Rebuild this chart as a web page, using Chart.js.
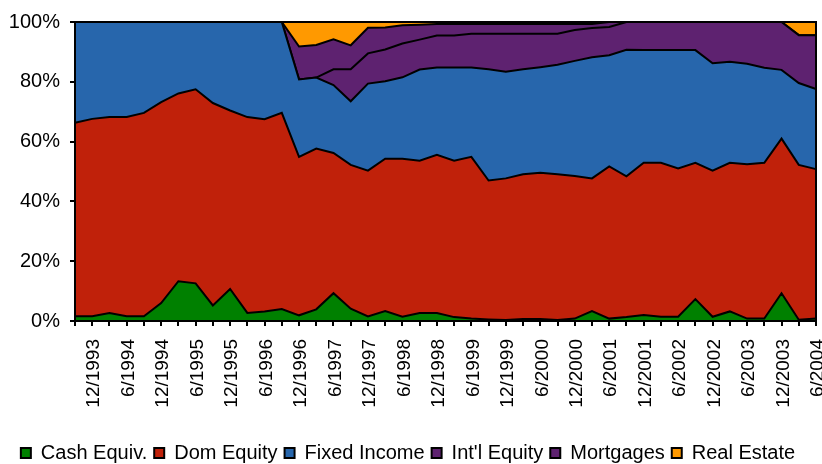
<!DOCTYPE html>
<html>
<head>
<meta charset="utf-8">
<script src="https://cdn.jsdelivr.net/npm/chart.js@4.4.1/dist/chart.umd.min.js"></script>
<style>
  html, body { margin: 0; padding: 0; background: #fff; }
  #wrap { width: 822px; height: 464px; }
</style>
</head>
<body>
<div id="wrap"><canvas id="allocChart"></canvas></div>
<script>
// quarter ends, only every other one gets a label on the axis
const quarters = ["9/1993", "12/1993", "3/1994", "6/1994", "9/1994", "12/1994", "3/1995", "6/1995",
    "9/1995", "12/1995", "3/1996", "6/1996", "9/1996", "12/1996", "3/1997", "6/1997", "9/1997",
    "12/1997", "3/1998", "6/1998", "9/1998", "12/1998", "3/1999", "6/1999", "9/1999", "12/1999",
    "3/2000", "6/2000", "9/2000", "12/2000", "3/2001", "6/2001", "9/2001", "12/2001", "3/2002",
    "6/2002", "9/2002", "12/2002", "3/2003", "6/2003", "9/2003", "12/2003", "3/2004", "6/2004"];

// percent of total, per quarter
const cashEquiv = [1.6, 1.6, 2.7, 1.6, 1.6, 6.0, 13.3, 12.6, 5.2, 10.7, 2.7, 3.2, 4.0, 1.9, 3.9, 9.3,
    4.1, 1.5, 3.3, 1.4, 2.7, 2.7, 1.3, 0.8, 0.5, 0.3, 0.7, 0.7, 0.3, 0.8, 3.3, 0.8, 1.3, 2.0, 1.4,
    1.4, 7.3, 1.4, 3.2, 0.8, 0.8, 9.3, 0.4, 0.8];
const domEquity = [64.7, 66.0, 65.5, 66.6, 68.0, 67.2, 62.8, 64.9, 67.7, 59.7, 65.5, 64.3, 65.6, 53.0,
    53.8, 46.9, 48.1, 48.8, 51.0, 52.9, 50.9, 52.9, 52.3, 54.1, 46.5, 47.4, 48.4, 48.9, 48.8, 47.7,
    44.4, 50.9, 47.1, 50.9, 51.5, 49.6, 45.6, 48.9, 49.7, 51.6, 52.1, 51.7, 51.8, 50.0];
const fixedIncome = [33.7, 32.4, 31.8, 31.8, 30.4, 26.8, 23.9, 22.5, 27.1, 29.6, 31.8, 32.5, 30.4, 25.9,
    23.7, 22.7, 21.3, 29.1, 25.9, 27.2, 30.5, 29.2, 31.2, 29.9, 37.2, 35.7, 35.1, 35.3, 36.6, 38.5,
    40.5, 37.2, 42.3, 37.7, 37.7, 39.6, 37.7, 35.9, 33.8, 33.6, 31.8, 23.0, 27.4, 26.8];
const intlEquity = [0, 0, 0, 0, 0, 0, 0, 0, 0, 0, 0, 0, 0, 0, 0, 5.3, 10.7, 10.1, 10.6, 11.3, 10.0,
    10.7, 10.7, 11.3, 11.9, 12.7, 11.9, 11.2, 10.4, 10.3, 9.8, 9.4, 9.3, 9.4, 9.4, 9.4, 9.4, 13.8,
    13.3, 14.0, 15.3, 16.0, 16.0, 18.0];
const mortgages = [0, 0, 0, 0, 0, 0, 0, 0, 0, 0, 0, 0, 0, 11.0, 10.9, 10.0, 8.0, 8.6, 7.4, 6.1, 5.0,
    3.8, 3.8, 3.2, 3.2, 3.2, 3.2, 3.2, 3.2, 2.0, 1.3, 1.7, 0, 0, 0, 0, 0, 0, 0, 0, 0, 0, 0, 0];
const realEstate = [0, 0, 0, 0, 0, 0, 0, 0, 0, 0, 0, 0, 0, 8.2, 7.7, 5.8, 7.8, 1.9, 1.8, 1.1, 0.9,
    0.7, 0.7, 0.7, 0.7, 0.7, 0.7, 0.7, 0.7, 0.7, 0.7, 0, 0, 0, 0, 0, 0, 0, 0, 0, 0, 0, 4.4, 4.4];

const yTicks = [0, 20, 40, 60, 80, 100];

const FONT = "'Liberation Sans', Arial, sans-serif";

function area(label, data, color, fill) {
    return {
        label: label,
        data: data,
        backgroundColor: color,
        borderColor: "#000",
        borderWidth: 2,
        fill: fill,
        pointRadius: 0,
        tension: 0
    };
}

// black box round the plot area, like the original
const frame = {
    id: "frame",
    afterDraw(chart) {
        const { ctx, chartArea: a } = chart;
        ctx.save();
        ctx.strokeStyle = "#000";
        ctx.lineWidth = 2;
        ctx.strokeRect(a.left, a.top, a.right - a.left, a.bottom - a.top);
        ctx.restore();
    }
};

const ctx = document.getElementById("allocChart").getContext("2d");
new Chart(ctx, {
    type: "line",
    data: {
        labels: quarters,
        datasets: [
            area("Cash Equiv.", cashEquiv, "#008000", "origin"),
            area("Dom Equity", domEquity, "#C0210A", "-1"),
            area("Fixed Income", fixedIncome, "#2766AC", "-1"),
            area("Int'l Equity", intlEquity, "#5E2270", "-1"),
            area("Mortgages", mortgages, "#5E2270", "-1"),
            area("Real Estate", realEstate, "#FF9900", "-1")
        ]
    },
    options: {
        responsive: true,
        maintainAspectRatio: false,
        animation: false,
        layout: { padding: { top: 19, right: 6, left: 0, bottom: -9 } },
        scales: {
            x: {
                stacked: true,
                offset: false,
                grid: { display: true, drawOnChartArea: false, drawTicks: true, tickLength: 5, color: "#000", lineWidth: 2 },
                border: { display: true, color: "#000", width: 2 },
                ticks: {
                    autoSkip: false,
                    maxRotation: 90,
                    minRotation: 90,
                    padding: 13,
                    labelOffset: 2,
                    color: "#000",
                    font: { family: FONT, size: 19 },
                    callback: (value, index) => index % 2 === 1 ? quarters[index] : ""
                },
                afterFit: scale => {
                    scale.height = 115;
                    scale.paddingLeft = 0;
                    scale.paddingRight = 0;
                }
            },
            y: {
                stacked: true,
                min: 0,
                max: 100,
                grid: { display: true, drawOnChartArea: false, drawTicks: true, tickLength: 5, color: "#000", lineWidth: 2 },
                border: { display: true, color: "#000", width: 2 },
                afterBuildTicks: scale => { scale.ticks = yTicks.map(v => ({ value: v })); },
                ticks: {
                    padding: 10,
                    color: "#000",
                    font: { family: FONT, size: 20 },
                    callback: value => value + "%"
                },
                afterFit: scale => { scale.width = 75; }
            }
        },
        plugins: {
            legend: {
                position: "bottom",
                labels: {
                    boxWidth: 10,
                    boxHeight: 10,
                    padding: 7,
                    color: "#000",
                    font: { family: FONT, size: 20 }
                }
            },
            tooltip: { enabled: false }
        }
    },
    plugins: [frame]
});
</script>
</body>
</html>
